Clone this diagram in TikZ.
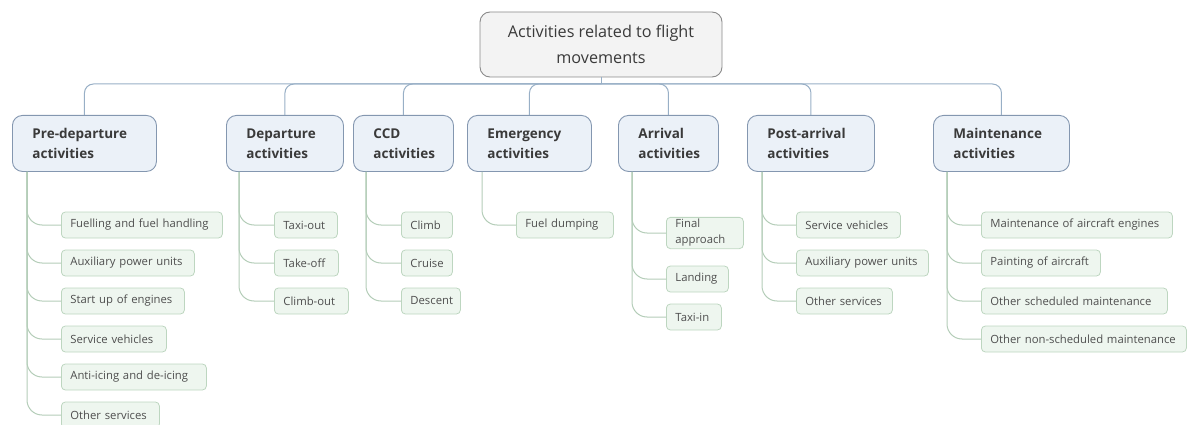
\documentclass[tikz,border=0pt]{standalone}
\usepackage{fontspec}
\setmainfont{Open Sans}
\usetikzlibrary{calc}
\definecolor{rootfill}{HTML}{F3F3F3}
\definecolor{rootdraw}{HTML}{8A8A8A}
\definecolor{mainfill}{HTML}{EBF1F8}
\definecolor{maindraw}{HTML}{8497B0}
\definecolor{leaffill}{HTML}{EEF6EF}
\definecolor{leafdraw}{HTML}{BDD6C0}
\definecolor{buscol}{HTML}{98AFC6}
\definecolor{brcol}{HTML}{B4CDB8}
\definecolor{txt}{HTML}{3A3A3A}
\definecolor{ltxt}{HTML}{4E4E4E}
\tikzset{
  rootbox/.style={draw=rootdraw, fill=rootfill, rounded corners=10pt, line width=0.9pt,
    minimum width=242pt, minimum height=65pt, align=center, text=txt,
    font=\fontsize{16.2}{26}\selectfont},
  mainbox/.style={draw=maindraw, fill=mainfill, rounded corners=10pt, line width=0.9pt,
    anchor=north west, minimum height=56pt, inner xsep=20pt, align=left, text=txt,
    font=\fontsize{13.5}{20}\selectfont\bfseries},
  leaf/.style={draw=leafdraw, fill=leaffill, rounded corners=4pt, line width=0.8pt,
    anchor=west, minimum height=26pt, inner xsep=9pt, inner ysep=2pt, align=left, text=ltxt,
    font=\fontsize{11.3}{16}\selectfont},
  bus/.style={draw=buscol, line width=1pt, rounded corners=9pt},
  branch/.style={draw=brcol, line width=1pt, rounded corners=15pt},
}
\begin{document}
\begin{tikzpicture}[x=1pt,y=-1pt]
\useasboundingbox (0,0) rectangle (1193,425);
% root
\node[rootbox] (root) at (601,44.5) {Activities related to flight\\movements};
% main nodes
\node[mainbox, text width=104pt] (pre) at (12,115) {Pre-departure\\activities};
\node[mainbox, text width=77pt] (dep) at (226,115) {Departure\\activities};
\node[mainbox, text width=60pt] (ccd) at (353,115) {CCD\\activities};
\node[mainbox, text width=84pt] (eme) at (467,115) {Emergency\\activities};
\node[mainbox, text width=60pt] (arr) at (618,115) {Arrival\\activities};
\node[mainbox, text width=87pt] (post) at (747,115) {Post-arrival\\activities};
\node[mainbox, text width=96pt] (mai) at (933,115) {Maintenance\\activities};
% bus
\coordinate (j) at (601,84);
\draw[bus] (root.south) -- (j);
\foreach \m in {pre,dep,ccd,eme,arr,post,mai}{
  \draw[bus] (j) -| (\m.north);
}
% leaves: pre-departure
\node[leaf, text width=143pt] (p1) at (61,225) {Fuelling and fuel handling};
\node[leaf, text width=115pt] (p2) at (61,263) {Auxiliary power units};
\node[leaf, text width=105pt] (p3) at (61,301) {Start up of engines};
\node[leaf, text width=87pt] (p4) at (61,339) {Service vehicles};
\node[leaf, text width=127pt] (p5) at (61,377) {Anti-icing and de-icing};
\node[leaf, text width=80pt] (p6) at (61,415) {Other services};
% departure
\node[leaf, text width=45pt] (d1) at (274,225) {Taxi-out};
\node[leaf, text width=46pt] (d2) at (274,263) {Take-off};
\node[leaf, text width=56pt] (d3) at (274,301) {Climb-out};
% CCD
\node[leaf, text width=33pt] (c1) at (401,225) {Climb};
\node[leaf, text width=33pt] (c2) at (401,263) {Cruise};
\node[leaf, text width=41pt] (c3) at (401,301) {Descent};
% emergency
\node[leaf, text width=79pt] (e1) at (516,225) {Fuel dumping};
% arrival
\node[leaf, text width=59pt] (a1) at (666,233) {Final\\approach};
\node[leaf, text width=44pt] (a2) at (666,279) {Landing};
\node[leaf, text width=37pt] (a3) at (666,317) {Taxi-in};
% post-arrival
\node[leaf, text width=86pt] (q1) at (796,225) {Service vehicles};
\node[leaf, text width=114pt] (q2) at (796,263) {Auxiliary power units};
\node[leaf, text width=78pt] (q3) at (796,301) {Other services};
% maintenance
\node[leaf, text width=173pt] (m1) at (981,225) {Maintenance of aircraft engines};
\node[leaf, text width=101pt] (m2) at (981,263) {Painting of aircraft};
\node[leaf, text width=168pt] (m3) at (981,301) {Other scheduled maintenance};
\node[leaf, text width=187pt] (m4) at (981,339) {Other non-scheduled maintenance};
% branches
\foreach \pn/\off/\kids in {pre/15/{p1,p2,p3,p4,p5,p6}, dep/13/{d1,d2,d3}, ccd/13/{c1,c2,c3},
    eme/15/{e1}, arr/14/{a1,a2,a3}, post/15/{q1,q2,q3}, mai/14/{m1,m2,m3,m4}}{
  \foreach \k in \kids {
    \draw[branch] ($(\pn.south west)+(\off,0)$) |- (\k.west);
  }
}
\end{tikzpicture}
\end{document}
